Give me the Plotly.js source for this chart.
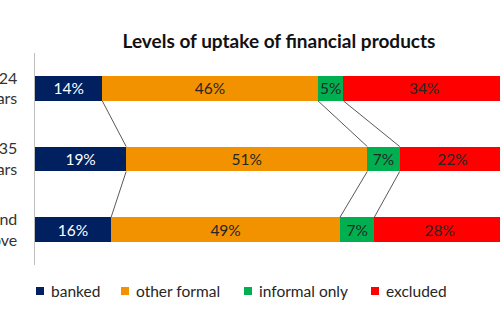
<!DOCTYPE html>
<html>
<head>
<meta charset="utf-8">
<script src="https://cdn.plot.ly/plotly-3.0.1.min.js"></script>
<style>
  html, body { margin: 0; padding: 0; overflow: hidden; background: #fff; width: 500px; height: 333px; }
  #chart { position: absolute; left: -60px; top: 0; width: 600px; height: 333px; }
</style>
</head>
<body>
<div id="chart"></div>
<script>
// ---- data ----
const categories = ["18-24<br>years", "25-35<br>years", "36 and<br>above"];
const seriesNames = ["banked", "other formal", "informal only", "excluded"];
const banked = [14.3, 19.4, 16.2];
const otherFormal = [45.9, 51.3, 48.7];
const informalOnly = [5.4, 6.9, 7.3];
const excluded = [34.4, 22.4, 27.8];
const seriesColors = ["#002060", "#F39200", "#00B050", "#FF0000"];
const labelColors = ["#FFFFFF", "#262626", "#262626", "#262626"];

const series = [banked, otherFormal, informalOnly, excluded];
const rowPos = categories.map((c, i) => i);
const barWidth = 0.353;
const FONT = "Lato, 'Open Sans', sans-serif";

const traces = series.map((vals, s) => ({
  type: "bar",
  orientation: "h",
  name: seriesNames[s],
  x: vals,
  y: rowPos,
  width: barWidth,
  marker: { color: seriesColors[s], line: { width: 0 } },
  text: vals.map(v => Math.round(v) + "%"),
  texttemplate: "%{text}",
  textposition: "inside",
  insidetextanchor: "middle",
  textangle: 0,
  constraintext: "none",
  textfont: { family: FONT, size: 15.5, color: labelColors[s] },
  hoverinfo: "skip",
  showlegend: false
}));

// series lines connecting segment ends between neighbouring bars
const cum = rowPos.map(i => {
  let acc = 0;
  return series.map(vals => (acc += vals[i]));
});
for (let k = 0; k < series.length - 1; k++) {
  for (let i = 0; i < rowPos.length - 1; i++) {
    traces.push({
      type: "scatter",
      mode: "lines",
      x: [cum[i][k], cum[i + 1][k]],
      y: [rowPos[i] + barWidth / 2, rowPos[i + 1] - barWidth / 2],
      line: { color: "#595959", width: 1 },
      hoverinfo: "skip",
      showlegend: false
    });
  }
}

// ---- layout helpers (pixel -> paper), plot area spans viewport x 35..505, y 53..265 ----
const PL = 35, PW = 470, PT = 53, PH = 212;
const px = v => (v - PL) / PW;
const py = v => (PT + PH - v) / PH;

const legendSquareX = [36, 121, 244, 371];
const legendY = 291;
const shapes = seriesNames.map((n, s) => ({
  type: "rect", xref: "paper", yref: "paper",
  x0: px(legendSquareX[s]), x1: px(legendSquareX[s] + 8),
  y0: py(legendY - 4), y1: py(legendY + 4),
  fillcolor: seriesColors[s], line: { width: 0 }
}));
const annotations = seriesNames.map((n, s) => ({
  text: n, xref: "paper", yref: "paper",
  x: px(legendSquareX[s] + 13), y: py(legendY),
  xanchor: "left", yanchor: "middle", showarrow: false,
  font: { family: FONT, size: 15.5, color: "#262626" }
}));

const layout = {
  width: 600, height: 333,
  margin: { l: 95, r: 35, t: PT, b: 333 - PT - PH, pad: 0 },
  paper_bgcolor: "#fff", plot_bgcolor: "#fff",
  barmode: "stack",
  showlegend: false,
  title: {
    text: "<b>Levels of uptake of financial products</b>",
    font: { family: FONT, size: 19, color: "#111111" },
    xref: "paper", x: px(279), xanchor: "center",
    yref: "container", y: 1 - 41 / 333, yanchor: "middle"
  },
  xaxis: {
    range: [0, 100], showgrid: false, zeroline: false, showline: false,
    showticklabels: false, ticks: "", fixedrange: true
  },
  yaxis: {
    range: [2.5, -0.5], tickvals: rowPos, ticktext: categories,
    showgrid: false, zeroline: false, showline: true, linecolor: "#BFBFBF", linewidth: 1.5,
    ticks: "", ticklabelstandoff: 13,
    tickfont: { family: FONT, size: 16, color: "#333333" },
    fixedrange: true
  },
  shapes: shapes,
  annotations: annotations
};

Plotly.newPlot("chart", traces, layout, { displayModeBar: false, staticPlot: true });
</script>
</body>
</html>
